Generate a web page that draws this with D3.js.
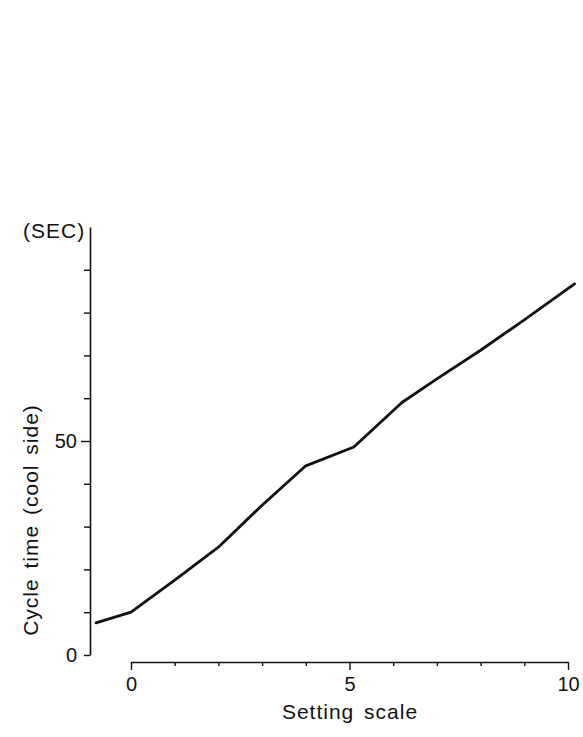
<!DOCTYPE html>
<html>
<head>
<meta charset="utf-8">
<script src="https://cdn.jsdelivr.net/npm/d3@7"></script>
<style>
  html, body { margin: 0; padding: 0; background: #fff; }
  svg { display: block; }
  text { font-family: "Liberation Sans", Arial, Helvetica, sans-serif; fill: #111; }
</style>
</head>
<body>
<svg id="chart" width="583" height="737"></svg>
<script>
// Data
const settingScale = [-0.8, 0, 1, 2, 3, 4, 5.1, 6.2, 7, 8, 9, 10.15];
const cycleTime    = [7.5, 10, 17.5, 25.2, 35, 44.2, 48.6, 59, 64.5, 71.2, 78.3, 86.7];
const xTicks = [0, 1, 2, 3, 4, 5, 6, 7, 8, 9, 10];
const xTickLabels = [0, 5, 10];
const yTicks = [0, 10, 20, 30, 40, 50, 60, 70, 80, 90];
const yTickLabels = [0, 50];

const svg = d3.select("#chart");
const tickFont = 20;
const titleFont = 21;

const x = d3.scaleLinear().domain([0, 10]).range([131, 568]);
const y = d3.scaleLinear().domain([0, 100]).range([655, 227]);

const yAxisX = 90;
const xAxisY = 662;

// Y axis
const yAxis = d3.axisLeft(y)
  .tickValues(yTicks)
  .tickSize(6)
  .tickSizeOuter(0)
  .tickPadding(7)
  .tickFormat(d => yTickLabels.includes(d) ? d : "");
const gy = svg.append("g").attr("transform", `translate(${yAxisX},0)`).call(yAxis);
gy.select(".domain").attr("stroke", "#111").attr("stroke-width", 1.6);
gy.selectAll(".tick line").attr("stroke", "#111").attr("stroke-width", 1.4)
  .attr("x2", d => d === 50 ? -9 : -6);
gy.selectAll(".tick text").attr("font-size", tickFont).attr("fill", "#111")
  .style("font-family", '"Liberation Sans", Arial, sans-serif');

// X axis
const xAxis = d3.axisBottom(x)
  .tickValues(xTicks)
  .tickSize(4)
  .tickSizeOuter(0)
  .tickFormat(d => xTickLabels.includes(d) ? d : "");
const gx = svg.append("g").attr("transform", `translate(0,${xAxisY})`).call(xAxis);
gx.select(".domain").attr("stroke", "#111").attr("stroke-width", 1.6);
gx.selectAll(".tick line").attr("stroke", "#111").attr("stroke-width", 1.4)
  .attr("y2", d => xTickLabels.includes(d) ? 8 : 4);
gx.selectAll(".tick text").attr("font-size", tickFont).attr("fill", "#111")
  .attr("y", 15).attr("dy", "0.71em")
  .style("font-family", '"Liberation Sans", Arial, sans-serif');

// Line
const line = d3.line()
  .x((d, i) => x(settingScale[i]))
  .y(d => y(d));
svg.append("path")
  .datum(cycleTime)
  .attr("d", line)
  .attr("fill", "none")
  .attr("stroke", "#111")
  .attr("stroke-width", 2.8)
  .attr("stroke-linejoin", "round")
  .attr("stroke-linecap", "round");

// Titles
svg.append("text")
  .attr("x", 23).attr("y", 238)
  .attr("font-size", titleFont)
  .attr("letter-spacing", 1)
  .text("(SEC)");

svg.append("text")
  .attr("x", 350).attr("y", 719)
  .attr("text-anchor", "middle")
  .attr("font-size", titleFont)
  .attr("letter-spacing", 1)
  .attr("word-spacing", 3)
  .text("Setting scale");

svg.append("text")
  .attr("transform", "translate(38,520) rotate(-90)")
  .attr("text-anchor", "middle")
  .attr("font-size", titleFont)
  .attr("letter-spacing", 1)
  .attr("word-spacing", 3)
  .text("Cycle time (cool side)");
</script>
</body>
</html>
